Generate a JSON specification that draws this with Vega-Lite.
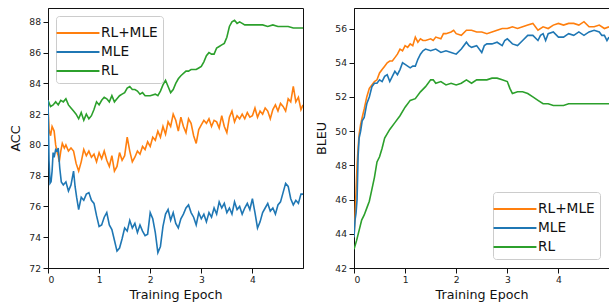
{
  "$schema": "https://vega.github.io/schema/vega-lite/v6.json",
  "padding": {"left": 9, "top": 7, "right": 0, "bottom": 3},
  "spacing": 11,
  "config": {
    "font": "DejaVu Sans",
    "view": {"stroke": "#111", "strokeWidth": 1},
    "axis": {"grid": false, "domainColor": "#111", "tickColor": "#111", "tickSize": 5, "labelFontSize": 9.2, "labelColor": "#222", "titleFontSize": 12.7, "titleFontWeight": "normal", "titleColor": "#111", "labelPadding": 2.5},
    "legend": {"title": null, "symbolType": "M-2,0L2,0", "symbolSize": 460, "symbolOffset": 5, "symbolStrokeWidth": 2, "labelFontSize": 13.7, "labelColor": "#111", "labelOffset": 11, "rowPadding": -0.5, "padding": 5, "strokeColor": "#cccccc", "fillColor": "rgba(255,255,255,0.8)", "cornerRadius": 3}
  },
  "datasets": {
    "acc": [
      {"method":"RL","epoch":0,"value":82.9},{"method":"RL","epoch":0.05,"value":82.5},{"method":"RL","epoch":0.1,"value":82.6},{"method":"RL","epoch":0.15,"value":82.8},{"method":"RL","epoch":0.2,"value":82.6},{"method":"RL","epoch":0.25,"value":82.9},{"method":"RL","epoch":0.3,"value":82.8},{"method":"RL","epoch":0.35,"value":83.0},{"method":"RL","epoch":0.4,"value":82.6},{"method":"RL","epoch":0.45,"value":82.4},{"method":"RL","epoch":0.5,"value":82.2},{"method":"RL","epoch":0.55,"value":82.0},{"method":"RL","epoch":0.6,"value":81.7},{"method":"RL","epoch":0.65,"value":82.1},{"method":"RL","epoch":0.7,"value":81.6},{"method":"RL","epoch":0.75,"value":82.0},{"method":"RL","epoch":0.8,"value":81.7},{"method":"RL","epoch":0.85,"value":81.9},{"method":"RL","epoch":0.9,"value":82.3},{"method":"RL","epoch":0.95,"value":82.8},{"method":"RL","epoch":1.0,"value":82.6},{"method":"RL","epoch":1.05,"value":82.9},{"method":"RL","epoch":1.1,"value":83.1},{"method":"RL","epoch":1.15,"value":83.0},{"method":"RL","epoch":1.2,"value":82.8},{"method":"RL","epoch":1.25,"value":83.2},{"method":"RL","epoch":1.3,"value":82.8},{"method":"RL","epoch":1.35,"value":83.0},{"method":"RL","epoch":1.4,"value":83.2},{"method":"RL","epoch":1.45,"value":83.3},{"method":"RL","epoch":1.5,"value":83.4},{"method":"RL","epoch":1.55,"value":83.7},{"method":"RL","epoch":1.6,"value":83.8},{"method":"RL","epoch":1.65,"value":83.6},{"method":"RL","epoch":1.7,"value":83.6},{"method":"RL","epoch":1.75,"value":83.5},{"method":"RL","epoch":1.8,"value":83.3},{"method":"RL","epoch":1.85,"value":83.4},{"method":"RL","epoch":1.9,"value":83.2},{"method":"RL","epoch":2.0,"value":83.2},{"method":"RL","epoch":2.1,"value":83.3},{"method":"RL","epoch":2.15,"value":83.2},{"method":"RL","epoch":2.2,"value":83.5},{"method":"RL","epoch":2.25,"value":83.9},{"method":"RL","epoch":2.3,"value":84.2},{"method":"RL","epoch":2.35,"value":83.8},{"method":"RL","epoch":2.4,"value":83.4},{"method":"RL","epoch":2.45,"value":83.6},{"method":"RL","epoch":2.5,"value":84.0},{"method":"RL","epoch":2.55,"value":84.3},{"method":"RL","epoch":2.6,"value":84.5},{"method":"RL","epoch":2.7,"value":84.8},{"method":"RL","epoch":2.75,"value":84.8},{"method":"RL","epoch":2.8,"value":84.9},{"method":"RL","epoch":2.9,"value":84.9},{"method":"RL","epoch":2.95,"value":85.0},{"method":"RL","epoch":3.0,"value":85.1},{"method":"RL","epoch":3.05,"value":85.4},{"method":"RL","epoch":3.1,"value":85.8},{"method":"RL","epoch":3.15,"value":86.0},{"method":"RL","epoch":3.2,"value":85.9},{"method":"RL","epoch":3.25,"value":85.9},{"method":"RL","epoch":3.3,"value":86.3},{"method":"RL","epoch":3.35,"value":86.4},{"method":"RL","epoch":3.4,"value":86.5},{"method":"RL","epoch":3.45,"value":86.6},{"method":"RL","epoch":3.5,"value":87.0},{"method":"RL","epoch":3.55,"value":87.7},{"method":"RL","epoch":3.6,"value":88.0},{"method":"RL","epoch":3.65,"value":88.1},{"method":"RL","epoch":3.7,"value":87.9},{"method":"RL","epoch":3.75,"value":88.0},{"method":"RL","epoch":3.8,"value":87.9},{"method":"RL","epoch":3.85,"value":87.8},{"method":"RL","epoch":3.9,"value":87.8},{"method":"RL","epoch":4.0,"value":87.8},{"method":"RL","epoch":4.1,"value":87.8},{"method":"RL","epoch":4.2,"value":87.8},{"method":"RL","epoch":4.3,"value":87.7},{"method":"RL","epoch":4.4,"value":87.8},{"method":"RL","epoch":4.5,"value":87.7},{"method":"RL","epoch":4.6,"value":87.7},{"method":"RL","epoch":4.7,"value":87.7},{"method":"RL","epoch":4.8,"value":87.6},{"method":"RL","epoch":4.9,"value":87.6},{"method":"RL","epoch":4.99,"value":87.6},

      {"method":"RL+MLE","epoch":0,"value":82.5},{"method":"RL+MLE","epoch":0.02,"value":81.0},{"method":"RL+MLE","epoch":0.05,"value":80.6},{"method":"RL+MLE","epoch":0.08,"value":81.2},{"method":"RL+MLE","epoch":0.12,"value":80.9},{"method":"RL+MLE","epoch":0.15,"value":80.0},{"method":"RL+MLE","epoch":0.18,"value":79.5},{"method":"RL+MLE","epoch":0.2,"value":79.3},{"method":"RL+MLE","epoch":0.22,"value":78.9},{"method":"RL+MLE","epoch":0.25,"value":79.6},{"method":"RL+MLE","epoch":0.28,"value":80.1},{"method":"RL+MLE","epoch":0.32,"value":79.8},{"method":"RL+MLE","epoch":0.35,"value":80.0},{"method":"RL+MLE","epoch":0.4,"value":79.6},{"method":"RL+MLE","epoch":0.45,"value":79.8},{"method":"RL+MLE","epoch":0.5,"value":79.6},{"method":"RL+MLE","epoch":0.55,"value":78.8},{"method":"RL+MLE","epoch":0.6,"value":78.3},{"method":"RL+MLE","epoch":0.65,"value":78.9},{"method":"RL+MLE","epoch":0.7,"value":79.7},{"method":"RL+MLE","epoch":0.75,"value":79.3},{"method":"RL+MLE","epoch":0.8,"value":79.6},{"method":"RL+MLE","epoch":0.85,"value":79.2},{"method":"RL+MLE","epoch":0.9,"value":79.4},{"method":"RL+MLE","epoch":0.95,"value":78.9},{"method":"RL+MLE","epoch":1.0,"value":79.5},{"method":"RL+MLE","epoch":1.05,"value":79.1},{"method":"RL+MLE","epoch":1.1,"value":79.6},{"method":"RL+MLE","epoch":1.15,"value":79.0},{"method":"RL+MLE","epoch":1.2,"value":78.6},{"method":"RL+MLE","epoch":1.25,"value":79.3},{"method":"RL+MLE","epoch":1.3,"value":78.3},{"method":"RL+MLE","epoch":1.35,"value":78.6},{"method":"RL+MLE","epoch":1.4,"value":79.5},{"method":"RL+MLE","epoch":1.45,"value":79.0},{"method":"RL+MLE","epoch":1.5,"value":79.3},{"method":"RL+MLE","epoch":1.55,"value":80.5},{"method":"RL+MLE","epoch":1.6,"value":79.6},{"method":"RL+MLE","epoch":1.65,"value":78.9},{"method":"RL+MLE","epoch":1.7,"value":79.2},{"method":"RL+MLE","epoch":1.75,"value":79.6},{"method":"RL+MLE","epoch":1.8,"value":79.4},{"method":"RL+MLE","epoch":1.85,"value":79.9},{"method":"RL+MLE","epoch":1.9,"value":79.7},{"method":"RL+MLE","epoch":1.95,"value":80.2},{"method":"RL+MLE","epoch":2.0,"value":79.9},{"method":"RL+MLE","epoch":2.05,"value":80.5},{"method":"RL+MLE","epoch":2.1,"value":80.3},{"method":"RL+MLE","epoch":2.15,"value":80.9},{"method":"RL+MLE","epoch":2.2,"value":80.5},{"method":"RL+MLE","epoch":2.25,"value":81.2},{"method":"RL+MLE","epoch":2.3,"value":80.7},{"method":"RL+MLE","epoch":2.35,"value":81.5},{"method":"RL+MLE","epoch":2.4,"value":81.2},{"method":"RL+MLE","epoch":2.45,"value":82.0},{"method":"RL+MLE","epoch":2.5,"value":81.6},{"method":"RL+MLE","epoch":2.55,"value":80.9},{"method":"RL+MLE","epoch":2.6,"value":81.8},{"method":"RL+MLE","epoch":2.65,"value":81.2},{"method":"RL+MLE","epoch":2.7,"value":80.8},{"method":"RL+MLE","epoch":2.75,"value":81.7},{"method":"RL+MLE","epoch":2.8,"value":81.4},{"method":"RL+MLE","epoch":2.85,"value":80.6},{"method":"RL+MLE","epoch":2.9,"value":80.1},{"method":"RL+MLE","epoch":2.95,"value":81.0},{"method":"RL+MLE","epoch":3.0,"value":81.3},{"method":"RL+MLE","epoch":3.05,"value":81.6},{"method":"RL+MLE","epoch":3.1,"value":81.4},{"method":"RL+MLE","epoch":3.15,"value":81.7},{"method":"RL+MLE","epoch":3.2,"value":81.2},{"method":"RL+MLE","epoch":3.25,"value":81.6},{"method":"RL+MLE","epoch":3.3,"value":81.5},{"method":"RL+MLE","epoch":3.35,"value":81.1},{"method":"RL+MLE","epoch":3.4,"value":81.9},{"method":"RL+MLE","epoch":3.45,"value":81.2},{"method":"RL+MLE","epoch":3.5,"value":80.8},{"method":"RL+MLE","epoch":3.55,"value":81.8},{"method":"RL+MLE","epoch":3.6,"value":82.2},{"method":"RL+MLE","epoch":3.65,"value":81.5},{"method":"RL+MLE","epoch":3.7,"value":81.9},{"method":"RL+MLE","epoch":3.75,"value":81.7},{"method":"RL+MLE","epoch":3.8,"value":82.0},{"method":"RL+MLE","epoch":3.85,"value":81.7},{"method":"RL+MLE","epoch":3.9,"value":82.1},{"method":"RL+MLE","epoch":3.95,"value":81.8},{"method":"RL+MLE","epoch":4.0,"value":81.9},{"method":"RL+MLE","epoch":4.05,"value":82.4},{"method":"RL+MLE","epoch":4.1,"value":81.8},{"method":"RL+MLE","epoch":4.15,"value":82.2},{"method":"RL+MLE","epoch":4.2,"value":82.0},{"method":"RL+MLE","epoch":4.25,"value":82.4},{"method":"RL+MLE","epoch":4.3,"value":82.2},{"method":"RL+MLE","epoch":4.35,"value":81.7},{"method":"RL+MLE","epoch":4.4,"value":82.3},{"method":"RL+MLE","epoch":4.45,"value":82.6},{"method":"RL+MLE","epoch":4.5,"value":82.2},{"method":"RL+MLE","epoch":4.55,"value":82.7},{"method":"RL+MLE","epoch":4.6,"value":82.5},{"method":"RL+MLE","epoch":4.65,"value":82.2},{"method":"RL+MLE","epoch":4.7,"value":83.0},{"method":"RL+MLE","epoch":4.75,"value":82.8},{"method":"RL+MLE","epoch":4.8,"value":83.8},{"method":"RL+MLE","epoch":4.85,"value":82.8},{"method":"RL+MLE","epoch":4.9,"value":83.1},{"method":"RL+MLE","epoch":4.95,"value":82.3},{"method":"RL+MLE","epoch":4.99,"value":82.6},

      {"method":"MLE","epoch":0,"value":82.9},{"method":"MLE","epoch":0.02,"value":79.0},{"method":"MLE","epoch":0.04,"value":77.5},{"method":"MLE","epoch":0.06,"value":77.6},{"method":"MLE","epoch":0.08,"value":78.3},{"method":"MLE","epoch":0.1,"value":79.5},{"method":"MLE","epoch":0.12,"value":79.2},{"method":"MLE","epoch":0.15,"value":79.7},{"method":"MLE","epoch":0.18,"value":79.6},{"method":"MLE","epoch":0.2,"value":79.8},{"method":"MLE","epoch":0.23,"value":78.5},{"method":"MLE","epoch":0.26,"value":77.6},{"method":"MLE","epoch":0.3,"value":77.4},{"method":"MLE","epoch":0.35,"value":77.6},{"method":"MLE","epoch":0.4,"value":77.0},{"method":"MLE","epoch":0.45,"value":77.4},{"method":"MLE","epoch":0.5,"value":78.3},{"method":"MLE","epoch":0.53,"value":77.3},{"method":"MLE","epoch":0.56,"value":76.6},{"method":"MLE","epoch":0.6,"value":75.8},{"method":"MLE","epoch":0.65,"value":76.6},{"method":"MLE","epoch":0.7,"value":76.4},{"method":"MLE","epoch":0.75,"value":76.8},{"method":"MLE","epoch":0.8,"value":76.9},{"method":"MLE","epoch":0.85,"value":76.4},{"method":"MLE","epoch":0.9,"value":76.2},{"method":"MLE","epoch":0.95,"value":75.4},{"method":"MLE","epoch":1.0,"value":74.7},{"method":"MLE","epoch":1.05,"value":74.8},{"method":"MLE","epoch":1.1,"value":75.3},{"method":"MLE","epoch":1.15,"value":75.6},{"method":"MLE","epoch":1.2,"value":74.8},{"method":"MLE","epoch":1.25,"value":74.5},{"method":"MLE","epoch":1.3,"value":73.8},{"method":"MLE","epoch":1.35,"value":73.1},{"method":"MLE","epoch":1.4,"value":73.3},{"method":"MLE","epoch":1.45,"value":73.9},{"method":"MLE","epoch":1.5,"value":74.6},{"method":"MLE","epoch":1.55,"value":74.4},{"method":"MLE","epoch":1.6,"value":75.1},{"method":"MLE","epoch":1.65,"value":74.6},{"method":"MLE","epoch":1.7,"value":74.9},{"method":"MLE","epoch":1.75,"value":74.3},{"method":"MLE","epoch":1.8,"value":74.8},{"method":"MLE","epoch":1.85,"value":74.4},{"method":"MLE","epoch":1.9,"value":74.1},{"method":"MLE","epoch":1.95,"value":74.2},{"method":"MLE","epoch":2.0,"value":75.6},{"method":"MLE","epoch":2.05,"value":75.2},{"method":"MLE","epoch":2.1,"value":74.3},{"method":"MLE","epoch":2.15,"value":73.0},{"method":"MLE","epoch":2.2,"value":73.4},{"method":"MLE","epoch":2.25,"value":74.7},{"method":"MLE","epoch":2.3,"value":75.5},{"method":"MLE","epoch":2.35,"value":75.8},{"method":"MLE","epoch":2.4,"value":75.1},{"method":"MLE","epoch":2.45,"value":75.6},{"method":"MLE","epoch":2.5,"value":74.9},{"method":"MLE","epoch":2.55,"value":74.6},{"method":"MLE","epoch":2.6,"value":75.2},{"method":"MLE","epoch":2.65,"value":75.5},{"method":"MLE","epoch":2.7,"value":75.9},{"method":"MLE","epoch":2.75,"value":76.1},{"method":"MLE","epoch":2.8,"value":75.6},{"method":"MLE","epoch":2.85,"value":75.3},{"method":"MLE","epoch":2.9,"value":74.8},{"method":"MLE","epoch":2.95,"value":75.6},{"method":"MLE","epoch":3.0,"value":75.2},{"method":"MLE","epoch":3.05,"value":75.5},{"method":"MLE","epoch":3.1,"value":75.0},{"method":"MLE","epoch":3.15,"value":75.6},{"method":"MLE","epoch":3.2,"value":75.3},{"method":"MLE","epoch":3.25,"value":75.9},{"method":"MLE","epoch":3.3,"value":75.5},{"method":"MLE","epoch":3.35,"value":76.3},{"method":"MLE","epoch":3.4,"value":75.9},{"method":"MLE","epoch":3.45,"value":76.2},{"method":"MLE","epoch":3.5,"value":75.6},{"method":"MLE","epoch":3.55,"value":75.9},{"method":"MLE","epoch":3.6,"value":75.5},{"method":"MLE","epoch":3.65,"value":76.3},{"method":"MLE","epoch":3.7,"value":75.8},{"method":"MLE","epoch":3.75,"value":76.0},{"method":"MLE","epoch":3.8,"value":75.5},{"method":"MLE","epoch":3.85,"value":75.9},{"method":"MLE","epoch":3.9,"value":76.2},{"method":"MLE","epoch":3.95,"value":75.8},{"method":"MLE","epoch":4.0,"value":76.5},{"method":"MLE","epoch":4.05,"value":75.6},{"method":"MLE","epoch":4.1,"value":74.6},{"method":"MLE","epoch":4.15,"value":75.0},{"method":"MLE","epoch":4.2,"value":75.6},{"method":"MLE","epoch":4.25,"value":75.9},{"method":"MLE","epoch":4.3,"value":76.2},{"method":"MLE","epoch":4.35,"value":75.7},{"method":"MLE","epoch":4.4,"value":75.9},{"method":"MLE","epoch":4.45,"value":75.5},{"method":"MLE","epoch":4.5,"value":76.1},{"method":"MLE","epoch":4.55,"value":76.3},{"method":"MLE","epoch":4.6,"value":76.9},{"method":"MLE","epoch":4.65,"value":77.5},{"method":"MLE","epoch":4.7,"value":77.3},{"method":"MLE","epoch":4.75,"value":76.5},{"method":"MLE","epoch":4.8,"value":76.1},{"method":"MLE","epoch":4.85,"value":76.4},{"method":"MLE","epoch":4.9,"value":76.2},{"method":"MLE","epoch":4.95,"value":76.8},{"method":"MLE","epoch":4.99,"value":76.8}
    ],
    "bleu": [
      {"method":"RL+MLE","epoch":0,"value":43.8},{"method":"RL+MLE","epoch":0.02,"value":45.0},{"method":"RL+MLE","epoch":0.04,"value":46.5},{"method":"RL+MLE","epoch":0.06,"value":48.0},{"method":"RL+MLE","epoch":0.08,"value":49.0},{"method":"RL+MLE","epoch":0.1,"value":49.8},{"method":"RL+MLE","epoch":0.13,"value":50.4},{"method":"RL+MLE","epoch":0.16,"value":50.8},{"method":"RL+MLE","epoch":0.2,"value":51.3},{"method":"RL+MLE","epoch":0.25,"value":52.0},{"method":"RL+MLE","epoch":0.3,"value":52.5},{"method":"RL+MLE","epoch":0.35,"value":52.7},{"method":"RL+MLE","epoch":0.4,"value":52.9},{"method":"RL+MLE","epoch":0.45,"value":53.0},{"method":"RL+MLE","epoch":0.5,"value":53.4},{"method":"RL+MLE","epoch":0.55,"value":53.6},{"method":"RL+MLE","epoch":0.6,"value":53.8},{"method":"RL+MLE","epoch":0.65,"value":54.0},{"method":"RL+MLE","epoch":0.7,"value":54.1},{"method":"RL+MLE","epoch":0.75,"value":54.1},{"method":"RL+MLE","epoch":0.8,"value":54.3},{"method":"RL+MLE","epoch":0.85,"value":54.5},{"method":"RL+MLE","epoch":0.9,"value":54.8},{"method":"RL+MLE","epoch":0.95,"value":54.7},{"method":"RL+MLE","epoch":1.0,"value":55.0},{"method":"RL+MLE","epoch":1.05,"value":54.9},{"method":"RL+MLE","epoch":1.1,"value":55.1},{"method":"RL+MLE","epoch":1.15,"value":55.0},{"method":"RL+MLE","epoch":1.2,"value":55.5},{"method":"RL+MLE","epoch":1.25,"value":55.2},{"method":"RL+MLE","epoch":1.3,"value":55.4},{"method":"RL+MLE","epoch":1.35,"value":55.3},{"method":"RL+MLE","epoch":1.4,"value":55.3},{"method":"RL+MLE","epoch":1.5,"value":55.4},{"method":"RL+MLE","epoch":1.55,"value":55.3},{"method":"RL+MLE","epoch":1.6,"value":55.5},{"method":"RL+MLE","epoch":1.7,"value":55.4},{"method":"RL+MLE","epoch":1.75,"value":55.7},{"method":"RL+MLE","epoch":1.8,"value":55.7},{"method":"RL+MLE","epoch":1.9,"value":55.8},{"method":"RL+MLE","epoch":1.95,"value":55.9},{"method":"RL+MLE","epoch":2.0,"value":55.7},{"method":"RL+MLE","epoch":2.1,"value":55.6},{"method":"RL+MLE","epoch":2.2,"value":55.9},{"method":"RL+MLE","epoch":2.3,"value":55.9},{"method":"RL+MLE","epoch":2.4,"value":55.8},{"method":"RL+MLE","epoch":2.5,"value":55.8},{"method":"RL+MLE","epoch":2.6,"value":55.7},{"method":"RL+MLE","epoch":2.7,"value":55.8},{"method":"RL+MLE","epoch":2.8,"value":55.9},{"method":"RL+MLE","epoch":2.9,"value":56.0},{"method":"RL+MLE","epoch":3.0,"value":56.0},{"method":"RL+MLE","epoch":3.1,"value":56.1},{"method":"RL+MLE","epoch":3.2,"value":56.0},{"method":"RL+MLE","epoch":3.3,"value":56.1},{"method":"RL+MLE","epoch":3.4,"value":56.2},{"method":"RL+MLE","epoch":3.5,"value":56.3},{"method":"RL+MLE","epoch":3.55,"value":56.1},{"method":"RL+MLE","epoch":3.6,"value":55.9},{"method":"RL+MLE","epoch":3.7,"value":56.1},{"method":"RL+MLE","epoch":3.8,"value":56.0},{"method":"RL+MLE","epoch":3.9,"value":56.2},{"method":"RL+MLE","epoch":4.0,"value":56.3},{"method":"RL+MLE","epoch":4.1,"value":56.2},{"method":"RL+MLE","epoch":4.2,"value":56.3},{"method":"RL+MLE","epoch":4.3,"value":56.3},{"method":"RL+MLE","epoch":4.4,"value":56.2},{"method":"RL+MLE","epoch":4.5,"value":56.4},{"method":"RL+MLE","epoch":4.6,"value":56.1},{"method":"RL+MLE","epoch":4.7,"value":56.1},{"method":"RL+MLE","epoch":4.8,"value":56.2},{"method":"RL+MLE","epoch":4.9,"value":56.0},{"method":"RL+MLE","epoch":4.99,"value":56.1},

      {"method":"MLE","epoch":0,"value":43.8},{"method":"MLE","epoch":0.02,"value":44.8},{"method":"MLE","epoch":0.04,"value":45.2},{"method":"MLE","epoch":0.06,"value":46.0},{"method":"MLE","epoch":0.08,"value":48.5},{"method":"MLE","epoch":0.1,"value":49.6},{"method":"MLE","epoch":0.13,"value":50.0},{"method":"MLE","epoch":0.16,"value":50.6},{"method":"MLE","epoch":0.2,"value":50.8},{"method":"MLE","epoch":0.25,"value":51.6},{"method":"MLE","epoch":0.3,"value":52.0},{"method":"MLE","epoch":0.35,"value":52.6},{"method":"MLE","epoch":0.4,"value":52.8},{"method":"MLE","epoch":0.45,"value":52.8},{"method":"MLE","epoch":0.5,"value":53.0},{"method":"MLE","epoch":0.55,"value":52.9},{"method":"MLE","epoch":0.6,"value":53.2},{"method":"MLE","epoch":0.65,"value":53.3},{"method":"MLE","epoch":0.7,"value":52.9},{"method":"MLE","epoch":0.75,"value":53.2},{"method":"MLE","epoch":0.8,"value":53.5},{"method":"MLE","epoch":0.85,"value":53.3},{"method":"MLE","epoch":0.9,"value":53.6},{"method":"MLE","epoch":0.95,"value":54.0},{"method":"MLE","epoch":1.0,"value":53.9},{"method":"MLE","epoch":1.05,"value":53.8},{"method":"MLE","epoch":1.1,"value":53.7},{"method":"MLE","epoch":1.15,"value":53.8},{"method":"MLE","epoch":1.2,"value":53.8},{"method":"MLE","epoch":1.25,"value":54.2},{"method":"MLE","epoch":1.3,"value":54.5},{"method":"MLE","epoch":1.35,"value":54.7},{"method":"MLE","epoch":1.4,"value":54.8},{"method":"MLE","epoch":1.5,"value":54.7},{"method":"MLE","epoch":1.6,"value":54.8},{"method":"MLE","epoch":1.7,"value":54.6},{"method":"MLE","epoch":1.8,"value":54.7},{"method":"MLE","epoch":1.9,"value":54.6},{"method":"MLE","epoch":2.0,"value":54.5},{"method":"MLE","epoch":2.1,"value":54.8},{"method":"MLE","epoch":2.2,"value":55.2},{"method":"MLE","epoch":2.25,"value":55.0},{"method":"MLE","epoch":2.3,"value":54.9},{"method":"MLE","epoch":2.4,"value":55.0},{"method":"MLE","epoch":2.5,"value":54.6},{"method":"MLE","epoch":2.55,"value":55.0},{"method":"MLE","epoch":2.6,"value":55.1},{"method":"MLE","epoch":2.7,"value":55.1},{"method":"MLE","epoch":2.8,"value":55.2},{"method":"MLE","epoch":2.9,"value":55.0},{"method":"MLE","epoch":2.95,"value":55.3},{"method":"MLE","epoch":3.0,"value":55.4},{"method":"MLE","epoch":3.1,"value":55.1},{"method":"MLE","epoch":3.2,"value":55.0},{"method":"MLE","epoch":3.3,"value":55.3},{"method":"MLE","epoch":3.4,"value":55.6},{"method":"MLE","epoch":3.5,"value":55.6},{"method":"MLE","epoch":3.6,"value":55.3},{"method":"MLE","epoch":3.65,"value":55.6},{"method":"MLE","epoch":3.7,"value":55.7},{"method":"MLE","epoch":3.75,"value":55.3},{"method":"MLE","epoch":3.8,"value":55.7},{"method":"MLE","epoch":3.9,"value":55.8},{"method":"MLE","epoch":4.0,"value":55.5},{"method":"MLE","epoch":4.1,"value":55.5},{"method":"MLE","epoch":4.2,"value":55.7},{"method":"MLE","epoch":4.3,"value":55.6},{"method":"MLE","epoch":4.4,"value":55.8},{"method":"MLE","epoch":4.5,"value":55.6},{"method":"MLE","epoch":4.6,"value":55.8},{"method":"MLE","epoch":4.7,"value":55.9},{"method":"MLE","epoch":4.8,"value":55.8},{"method":"MLE","epoch":4.85,"value":55.6},{"method":"MLE","epoch":4.9,"value":55.6},{"method":"MLE","epoch":4.95,"value":55.3},{"method":"MLE","epoch":4.99,"value":55.5},

      {"method":"RL","epoch":0,"value":43.1},{"method":"RL","epoch":0.05,"value":43.6},{"method":"RL","epoch":0.1,"value":44.2},{"method":"RL","epoch":0.15,"value":44.8},{"method":"RL","epoch":0.2,"value":45.1},{"method":"RL","epoch":0.25,"value":45.5},{"method":"RL","epoch":0.3,"value":45.9},{"method":"RL","epoch":0.35,"value":46.6},{"method":"RL","epoch":0.4,"value":47.3},{"method":"RL","epoch":0.45,"value":48.2},{"method":"RL","epoch":0.5,"value":48.5},{"method":"RL","epoch":0.55,"value":49.0},{"method":"RL","epoch":0.6,"value":49.6},{"method":"RL","epoch":0.7,"value":50.1},{"method":"RL","epoch":0.8,"value":50.5},{"method":"RL","epoch":0.9,"value":50.9},{"method":"RL","epoch":1.0,"value":51.4},{"method":"RL","epoch":1.1,"value":51.8},{"method":"RL","epoch":1.2,"value":51.9},{"method":"RL","epoch":1.3,"value":52.3},{"method":"RL","epoch":1.4,"value":52.6},{"method":"RL","epoch":1.5,"value":53.0},{"method":"RL","epoch":1.55,"value":53.0},{"method":"RL","epoch":1.6,"value":52.8},{"method":"RL","epoch":1.7,"value":52.9},{"method":"RL","epoch":1.8,"value":52.7},{"method":"RL","epoch":1.9,"value":52.8},{"method":"RL","epoch":2.0,"value":52.7},{"method":"RL","epoch":2.1,"value":52.8},{"method":"RL","epoch":2.2,"value":53.0},{"method":"RL","epoch":2.3,"value":52.8},{"method":"RL","epoch":2.4,"value":53.0},{"method":"RL","epoch":2.5,"value":53.0},{"method":"RL","epoch":2.6,"value":53.0},{"method":"RL","epoch":2.7,"value":53.1},{"method":"RL","epoch":2.8,"value":53.1},{"method":"RL","epoch":2.9,"value":53.0},{"method":"RL","epoch":3.0,"value":52.9},{"method":"RL","epoch":3.05,"value":52.5},{"method":"RL","epoch":3.1,"value":52.2},{"method":"RL","epoch":3.2,"value":52.3},{"method":"RL","epoch":3.3,"value":52.3},{"method":"RL","epoch":3.4,"value":52.2},{"method":"RL","epoch":3.5,"value":52.0},{"method":"RL","epoch":3.6,"value":51.8},{"method":"RL","epoch":3.7,"value":51.6},{"method":"RL","epoch":3.8,"value":51.6},{"method":"RL","epoch":3.9,"value":51.5},{"method":"RL","epoch":4.0,"value":51.5},{"method":"RL","epoch":4.1,"value":51.5},{"method":"RL","epoch":4.2,"value":51.6},{"method":"RL","epoch":4.4,"value":51.6},{"method":"RL","epoch":4.6,"value":51.6},{"method":"RL","epoch":4.8,"value":51.6},{"method":"RL","epoch":4.99,"value":51.6}
    ]
  },
  "resolve": {"scale": {"color": "independent"}, "legend": {"color": "independent"}},
  "hconcat": [
    {
      "width": 255, "height": 260,
      "data": {"name": "acc"},
      "mark": {"type": "line", "strokeWidth": 1.6, "clip": true},
      "encoding": {
        "x": {"field": "epoch", "type": "quantitative", "title": "Training Epoch", "scale": {"domain": [0, 4.99], "nice": false, "zero": false}, "axis": {"values": [0,1,2,3,4], "titlePadding": 4}},
        "y": {"field": "value", "type": "quantitative", "title": "ACC", "scale": {"domain": [72, 88.9], "nice": false, "zero": false}, "axis": {"values": [72,74,76,78,80,82,84,86,88], "titlePadding": 6}},
        "color": {"field": "method", "type": "nominal", "scale": {"domain": ["RL+MLE","MLE","RL"], "range": ["#ff7f0e","#1f77b4","#2ca02c"]}, "legend": {"orient": "top-left", "offset": 8}}
      }
    },
    {
      "width": 255, "height": 260,
      "data": {"name": "bleu"},
      "mark": {"type": "line", "strokeWidth": 1.6, "clip": true},
      "encoding": {
        "x": {"field": "epoch", "type": "quantitative", "title": "Training Epoch", "scale": {"domain": [0, 4.99], "nice": false, "zero": false}, "axis": {"values": [0,1,2,3,4], "titlePadding": 4}},
        "y": {"field": "value", "type": "quantitative", "title": "BLEU", "scale": {"domain": [42, 57.2], "nice": false, "zero": false}, "axis": {"values": [42,44,46,48,50,52,54,56], "titlePadding": 6}},
        "color": {"field": "method", "type": "nominal", "scale": {"domain": ["RL+MLE","MLE","RL"], "range": ["#ff7f0e","#1f77b4","#2ca02c"]}, "legend": {"orient": "bottom-right", "offset": 9}}
      }
    }
  ]
}
